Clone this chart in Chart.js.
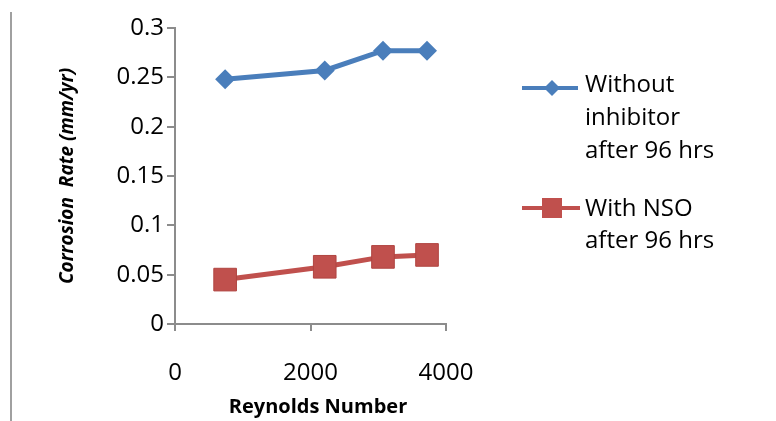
<!DOCTYPE html>
<html>
<head>
<meta charset="utf-8">
<script src="https://cdn.jsdelivr.net/npm/chart.js@4.4.1/dist/chart.umd.min.js"></script>
<style>
  body { margin: 0; background: #fff; }
  #wrap { position: relative; width: 776px; height: 421px; }
  #edge { position: absolute; left: 10px; top: 12px; width: 2px; height: 409px; background: #a0a0a0; }
</style>
</head>
<body>
<div id="wrap">
  <div id="edge"></div>
  <canvas id="c" width="776" height="421"></canvas>
</div>
<script>
// values
const reynolds = [740, 2210, 3070, 3720];
const withoutInhibitor = [0.248, 0.257, 0.277, 0.277];
const withNSO = [0.045, 0.058, 0.068, 0.070];
const xTicks = [0, 2000, 4000];
const yTicks = [0, 0.05, 0.1, 0.15, 0.2, 0.25, 0.3];
const legendBlue = ['Without', 'inhibitor', 'after 96 hrs'];
const legendRed = ['With NSO', 'after 96 hrs'];
const xTitle = 'Reynolds Number';
const yTitle = 'Corrosion  Rate (mm/yr)';

const BLUE = '#4a7ebb';
const RED = '#c0504d';
const AXIS = '#8c8c8c';
const FONT = '"Open Sans", sans-serif';

function toPoints(xs, ys) {
    return xs.map((x, i) => ({ x: x, y: ys[i] }));
}

// axis titles + the multi-line legend on the right
const extras = {
    id: 'extras',
    afterDraw(chart) {
        const ctx = chart.ctx;
        ctx.save();
        ctx.fillStyle = '#000';

        // x title
        ctx.font = 'bold 20px ' + FONT;
        ctx.textAlign = 'center';
        ctx.textBaseline = 'middle';
        ctx.fillText(xTitle, 318, 407);

        // y title
        ctx.save();
        ctx.translate(68, 176);
        ctx.rotate(-Math.PI / 2);
        ctx.font = 'italic bold 19px ' + FONT;
        ctx.fillText(yTitle, 0, 0);
        ctx.restore();

        // legend
        ctx.textAlign = 'left';
        ctx.font = '24px ' + FONT;
        ctx.lineWidth = 4;
        ctx.strokeStyle = BLUE;
        ctx.beginPath(); ctx.moveTo(522, 88); ctx.lineTo(578, 88); ctx.stroke();
        ctx.fillStyle = BLUE;
        ctx.beginPath();
        ctx.moveTo(552, 80); ctx.lineTo(560, 88); ctx.lineTo(552, 96); ctx.lineTo(544, 88);
        ctx.closePath(); ctx.fill();

        ctx.strokeStyle = RED;
        ctx.beginPath(); ctx.moveTo(522, 208); ctx.lineTo(580, 208); ctx.stroke();
        ctx.fillStyle = RED;
        ctx.fillRect(542, 198, 20, 20);

        ctx.fillStyle = '#000';
        legendBlue.forEach((t, i) => ctx.fillText(t, 585, 85 + i * 33));
        legendRed.forEach((t, i) => ctx.fillText(t, 585, 209 + i * 32));
        ctx.restore();
    }
};

new Chart(document.getElementById('c').getContext('2d'), {
    type: 'scatter',
    data: {
        datasets: [{
            label: legendBlue.join(' '),
            data: toPoints(reynolds, withoutInhibitor),
            showLine: true,
            borderColor: BLUE,
            backgroundColor: BLUE,
            borderWidth: 5,
            pointStyle: 'rectRot',
            pointRadius: 10,
            pointBorderWidth: 0
        }, {
            label: legendRed.join(' '),
            data: toPoints(reynolds, withNSO),
            showLine: true,
            borderColor: RED,
            backgroundColor: RED,
            borderWidth: 5,
            pointStyle: 'rect',
            pointRadius: 16,
            pointBorderWidth: 1,
            pointBorderColor: '#b04440'
        }]
    },
    options: {
        responsive: false,
        animation: false,
        layout: { padding: { left: 0, top: 28, right: 330, bottom: 0 } },
        plugins: { legend: { display: false }, tooltip: { enabled: false } },
        scales: {
            x: {
                type: 'linear',
                min: 0, max: 4000,
                afterFit(s) { s.height = 97; },
                afterBuildTicks(s) { s.ticks = xTicks.map(v => ({ value: v })); },
                border: { display: true, color: AXIS, width: 2 },
                grid: { drawOnChartArea: false, drawTicks: true, tickLength: 7, color: AXIS, lineWidth: 2 },
                ticks: { color: '#000', padding: 28, font: { family: FONT, size: 24 },
                         callback: v => String(v) }
            },
            y: {
                min: 0, max: 0.3,
                afterFit(s) { s.width = 175; },
                afterBuildTicks(s) { s.ticks = yTicks.map(v => ({ value: v })); },
                border: { display: true, color: AXIS, width: 2 },
                grid: { drawOnChartArea: false, drawTicks: true, tickLength: 8, color: AXIS, lineWidth: 2 },
                ticks: { color: '#000', padding: 3, font: { family: FONT, size: 24 },
                         callback: v => String(v) }
            }
        }
    },
    plugins: [extras]
});
</script>
</body>
</html>
